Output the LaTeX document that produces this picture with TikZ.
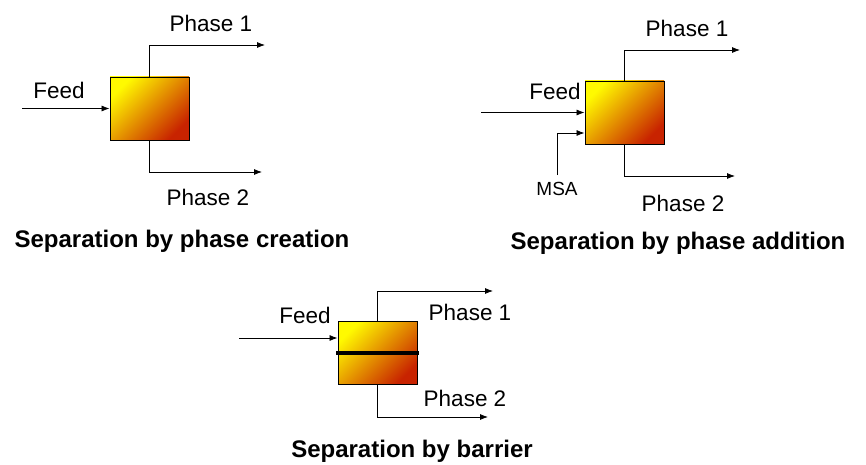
\documentclass[tikz,border=0pt]{standalone}
\usepackage{fontspec}
\setmainfont{Liberation Sans}
\usetikzlibrary{arrows.meta,positioning}
\definecolor{sepyellow}{RGB}{255,250,0}
\definecolor{seporange}{RGB}{232,165,0}
\definecolor{sepred}{RGB}{200,35,0}
\tikzset{
  sepbox/.style={draw,line width=0.9pt,minimum width=79pt,minimum height=63pt,inner sep=0pt,
    shading=axis,top color=sepyellow,middle color=seporange,bottom color=sepred,shading angle=45},
  streamarrow/.style={-{Latex[length=8pt,width=6pt]},line width=0.8pt},
  streamline/.style={line width=0.8pt},
  barrier/.style={line width=3.2pt},
  lbl/.style={font=\fontsize{22.5}{26}\selectfont,inner sep=0pt},
  caption/.style={font=\fontsize{24}{28}\selectfont\bfseries,inner sep=0pt,text height=17pt,text depth=5pt}
}

\begin{document}
\begin{tikzpicture}[x=1pt,y=-1pt]
\useasboundingbox (0,0) rectangle (866,465);
% phase creation
\node[sepbox] (creation) at (149.5,108.5) {};
\coordinate (feedA) at (22,108.5);
\coordinate (upA) at (265,45);
\coordinate (downA) at (262,172);
\node[lbl] (feedAlbl) at (59,90) {Feed};
\node[lbl] (upAlbl) at (211,23) {Phase 1};
\node[lbl] (downAlbl) at (208,197) {Phase 2};
\node[caption] (capA) at (182,241) {Separation by phase creation};
\draw[streamarrow] (feedA)--(creation.west);
\draw[streamarrow] (creation.north) |- (upA);
\draw[streamarrow] (creation.south) |- (downA);
% phase addition
\node[sepbox] (addition) at (624.5,112.5) {};
\coordinate (feedB) at (481,112.5);
\coordinate (msaB) at (557,175);
\coordinate (upB) at (740,50);
\coordinate (downB) at (735,176);
\node[lbl] (feedBlbl) at (555,91) {Feed};
\node[lbl,font=\fontsize{19}{22}\selectfont] (msaBlbl) at (557,189) {MSA};
\node[lbl] (upBlbl) at (687,28) {Phase 1};
\node[lbl] (downBlbl) at (683,203) {Phase 2};
\node[caption] (capB) at (678,243) {Separation by phase addition};
\draw[streamarrow] (feedB)--(addition.west);
\draw[streamarrow] (msaB) |- ([yshift=-20.5pt]addition.west);
\draw[streamarrow] (addition.north) |- (upB);
\draw[streamarrow] (addition.south) |- (downB);
% barrier
\node[sepbox] (membrane) at (377.5,353) {};
\coordinate (feedC) at (239,338);
\coordinate (upC) at (493,291);
\coordinate (downC) at (488,417);
\node[lbl] (feedClbl) at (305,315) {Feed};
\node[lbl] (upClbl) at (470,312) {Phase 1};
\node[lbl] (downClbl) at (465,398) {Phase 2};
\node[caption] (capC) at (412,451) {Separation by barrier};
\draw[barrier] ([xshift=-1.5pt]membrane.west)--([xshift=1.5pt]membrane.east);
\draw[streamarrow] (feedC)--(feedC-|membrane.west);
\draw[streamarrow] (membrane.north) |- (upC);
\draw[streamarrow] (membrane.south) |- (downC);
\end{tikzpicture}
\end{document}
